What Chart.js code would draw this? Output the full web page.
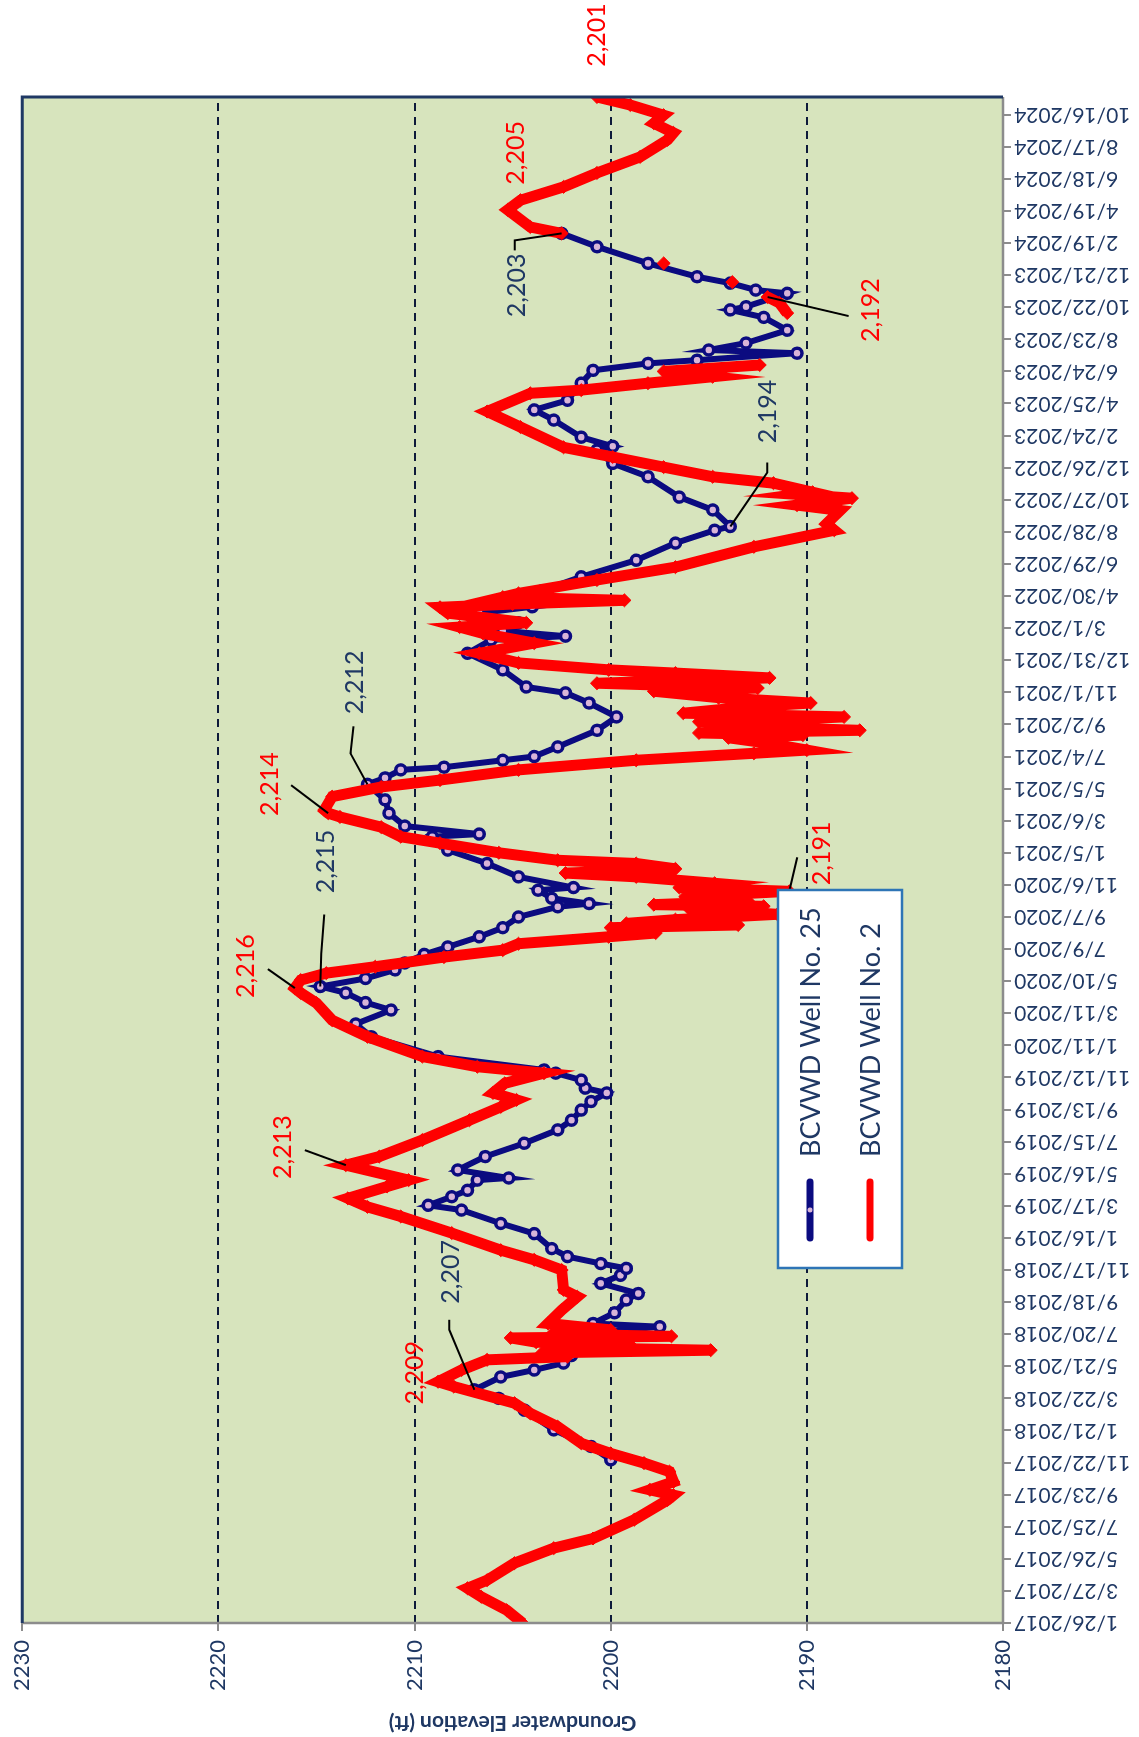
<!DOCTYPE html>
<html>
<head>
<meta charset="utf-8">
<title>Groundwater Elevation</title>
<script src="https://cdn.jsdelivr.net/npm/chart.js@4.4.1/dist/chart.umd.min.js"></script>
<style>
  html, body { margin: 0; padding: 0; background: #fff; overflow: hidden; }
  /* the chart is drawn landscape and turned a quarter turn, like the source */
  #wrap {
    position: absolute; left: 0; top: 0; width: 1737px; height: 1139px;
    transform-origin: 0 0;
    transform: translate(0px, 1737px) rotate(-90deg);
  }
</style>
</head>
<body>
<div id="wrap"><canvas id="chart" width="1737" height="1139"></canvas></div>
<script>
// x values are days after 1/26/2017
const startDate = Date.UTC(2017, 0, 26);
const axisMaxDay = 2853;

// BCVWD Well No. 25
const well25Days = [305, 330, 361, 398, 420, 436, 460, 473, 486, 500, 540, 554, 560, 580, 604, 616, 635, 650, 663, 672,
  685, 700, 728, 747, 772, 781, 797, 809, 828, 832, 847, 872, 897, 922, 940, 959, 975, 991, 1000, 1015,
  1028, 1034, 1059, 1096, 1120, 1146, 1160, 1178, 1190, 1205, 1221, 1234, 1250, 1264, 1283, 1300, 1320, 1339, 1345, 1355,
  1370, 1375, 1395, 1420, 1445, 1470, 1475, 1490, 1514, 1539, 1568, 1580, 1595, 1600, 1613, 1620, 1638, 1669, 1694, 1720,
  1739, 1750, 1782, 1813, 1838, 1845, 1855, 1870, 1888, 1900, 1912, 1930, 1956, 1987, 2019, 2043, 2050, 2081, 2105, 2143,
  2168, 2193, 2200, 2217, 2249, 2268, 2286, 2318, 2342, 2355, 2361, 2374, 2380, 2393, 2417, 2441, 2455, 2461, 2486, 2492,
  2505, 2517, 2542, 2573, 2598];
const well25Values = [2200.0, 2201.0, 2202.9, 2204.4, 2205.7, 2206.95, 2205.6, 2203.9, 2202.4, 2202.0, 2201.5, 2197.5, 2200.9, 2199.8, 2199.2, 2198.6, 2200.5, 2199.5, 2199.2, 2200.5,
  2202.2, 2203.0, 2203.9, 2205.6, 2207.6, 2209.3, 2208.1, 2207.3, 2206.8, 2205.2, 2207.8, 2206.4, 2204.4, 2202.7, 2202.0, 2201.5, 2201.0, 2200.2, 2201.3, 2201.5,
  2202.8, 2203.4, 2208.8, 2212.2, 2213.0, 2211.2, 2212.5, 2213.5, 2214.8, 2212.5, 2211.0, 2210.5, 2209.5, 2208.3, 2206.7, 2205.5, 2204.7, 2202.7, 2201.1, 2203.0,
  2203.7, 2201.9, 2204.7, 2206.3, 2208.3, 2209.1, 2206.7, 2210.5, 2211.3, 2211.5, 2212.4, 2211.5, 2210.7, 2208.5, 2205.5, 2203.9, 2202.7, 2200.7, 2199.7, 2201.1,
  2202.3, 2204.3, 2205.5, 2207.3, 2206.1, 2202.3, 2205.5, 2204.7, 2206.7, 2204.0, 2205.5, 2203.5, 2201.5, 2198.7, 2196.7, 2194.7, 2193.9, 2194.8, 2196.5, 2198.1,
  2199.9, 2200.7, 2199.9, 2201.5, 2202.9, 2203.9, 2202.2, 2201.5, 2200.9, 2198.1, 2195.6, 2190.5, 2195.0, 2193.1, 2191.0, 2192.2, 2193.9, 2193.1, 2191.0, 2192.6,
  2193.9, 2195.6, 2198.1, 2200.7, 2202.5];

// BCVWD Well No. 2 (null = no reading)
const well2Days = [0, 24, 49, 65, 80, 112, 140, 158, 193, 230, 239, 249, 264, 283, 299, 317, 336, 367, 392, 411,
  442, 451, 473, 492, 498, 505, 510, 515, 520, 525, 533, 536, 540, 548, 560, 585, 610, 623, 660, 679,
  697, 729, 760, 778, 794, 816, 828, 856, 872, 903, 940, 965, 978, 991, 1009, 1028, 1040, 1059, 1096, 1127,
  1159, 1178, 1187, 1202, 1215, 1227, 1245, 1258, 1270, 1283, 1290, 1300, 1305, 1308, 1315, 1325, 1335, 1340, 1343, 1350,
  1358, 1368, 1375, 1383, 1395, 1402, 1410, 1420, 1426, 1440, 1458, 1470, 1488, 1507, 1514, 1520, 1545, 1563, 1576, 1595,
  1613, 1626, 1632, 1645, 1655, 1660, 1664, 1669, 1675, 1680, 1685, 1690, 1694, 1701, 1713, 1720, 1730, 1742, 1748, 1757,
  1767, 1776, 1782, 1795, 1813, 1832, 1850, 1862, 1870, 1888, 1899, 1905, 1912, 1918, 1925, 1950, 1974, 2012, 2043, 2055,
  2080, 2090, 2103, 2110, 2114, 2131, 2143, 2161, 2180, 2198, 2236, 2265, 2299, 2305, 2318, 2330, 2340, 2352, 2400, 2449,
  2468, 2479, 2493, 2507, 2525, 2542, 2570, 2598, 2610, 2642, 2660, 2685, 2711, 2741, 2773, 2786, 2804, 2819, 2838, 2853];
const well2Values = [2204.5, 2205.3, 2206.6, 2207.3, 2206.3, 2204.9, 2202.9, 2200.9, 2198.8, 2197.1, 2196.8, 2198.0, 2196.8, 2197.0, 2198.3, 2200.0, 2201.5, 2202.7, 2204.1, 2204.9,
  2208.0, 2208.8, 2207.6, 2206.3, 2202.2, 2203.5, 2194.9, 2202.5, 2199.0, 2203.8, 2205.1, 2196.9, 2203.0, 2200.0, 2203.2, 2202.5, 2201.7, 2202.4, 2202.5, 2203.9,
  2205.6, 2208.1, 2210.7, 2212.4, 2213.4, 2211.4, 2210.3, 2213.5, 2211.8, 2209.6, 2207.2, 2205.6, 2204.8, 2206.0, 2205.4, 2203.4, 2206.8, 2209.6, 2212.4, 2214.2,
  2215.0, 2215.8, 2216.1, 2215.8, 2214.5, 2212.0, 2208.5, 2205.5, 2204.7, 2200.1, 2197.7, 2200.0, 2193.5, 2199.2, 2196.7, 2191.5, 2196.0, 2192.2, 2197.8, 2193.0,
  2196.2, 2190.9, 2196.5, 2194.7, 2198.7, 2202.3, 2196.7, 2198.7, 2202.7, 2205.7, 2208.7, 2210.7, 2211.7, 2213.8, 2214.4, 2214.6, 2214.2, 2211.7, 2208.7, 2204.7,
  2198.7, 2192.7, 2190.0, 2192.0, 2194.0, 2190.2, 2195.5, 2187.3, 2192.7, 2189.8, 2195.5, 2190.5, 2188.1, 2196.3, 2192.9, 2189.8, 2194.5, 2197.8, 2192.5, 2200.7,
  2191.9, 2196.7, 2200.1, 2204.7, 2206.7, 2203.9, 2206.5, 2207.7, 2204.3, 2208.3, 2208.7, 2205.0, 2199.3, 2205.5, 2204.7, 2200.7, 2196.7, 2192.7, 2188.6, 2189.0,
  2188.3, 2190.5, 2187.7, 2190.5, 2189.7, 2191.7, 2194.8, 2197.3, 2199.9, 2202.4, 2204.6, 2206.3, 2204.1, 2201.5, 2198.1, 2194.8, 2197.3, 2192.4, null, 2191.0,
  2191.4, 2192.0, null, 2193.8, null, 2197.3, null, 2202.5, 2204.1, 2205.25, 2204.6, 2202.4, 2200.7, 2198.5, 2197.1, 2196.8, 2197.8, 2197.3, 2199.0, 2200.7];

// labelled readings: which well, which day, where the text sits, leader line
const pointLabels = [
  { well: 2, day: 2853, text: '2,201', dx: 62, dy: 0, leader: [] },
  { well: 2, day: 2642, text: '2,205', dx: 57, dy: 8, leader: [] },
  { well: 25, day: 2598, text: '2,203', dx: -52, dy: -45, leader: [[-17, -47], [-7, -47]] },
  { well: 2, day: 2479, text: '2,192', dx: -13, dy: 103, leader: [[-19, 81]] },
  { well: 25, day: 2050, text: '2,194', dx: 115, dy: 38, leader: [[64, 37], [54, 37]] },
  { well: 25, day: 1568, text: '2,212', dx: 102, dy: -13, leader: [[58, -14], [31, -17]] },
  { well: 2, day: 1514, text: '2,214', dx: 29, dy: -58, leader: [[28, -37]] },
  { well: 25, day: 1190, text: '2,215', dx: 125, dy: 6, leader: [[72, 4], [33, 1]] },
  { well: 2, day: 1187, text: '2,216', dx: 22, dy: -49, leader: [[19, -27]] },
  { well: 2, day: 856, text: '2,213', dx: 18, dy: -63, leader: [[15, -41]] },
  { well: 25, day: 436, text: '2,207', dx: 118, dy: -23, leader: [[70, -25], [60, -25]] },
  { well: 2, day: 451, text: '2,209', dx: 9, dy: -23, leader: [] },
  { well: 2, day: 1368, text: '2,191', dx: 38, dy: 33, leader: [[34, 8]] }
];

const navy = '#0B0B80';
const textNavy = '#1F3864';
const red = '#FF0000';
const plotGreen = '#D7E4BD';

function dayToLabel(day) {
  const d = new Date(startDate + day * 86400000);
  return (d.getUTCMonth() + 1) + '/' + d.getUTCDate() + '/' + d.getUTCFullYear();
}

function toPoints(days, values) {
  return days.map((d, i) => ({ x: d, y: values[i] }));
}

// plot background and the frame around it
const framePlugin = {
  id: 'frame',
  beforeDraw(chart) {
    const { ctx, chartArea: a } = chart;
    ctx.save();
    ctx.fillStyle = plotGreen;
    ctx.fillRect(a.left, a.top, a.right - a.left, a.bottom - a.top);
    ctx.restore();
  },
  afterDatasetsDraw(chart) {
    const { ctx, chartArea: a } = chart;
    ctx.save();
    ctx.lineWidth = 2.5;
    ctx.strokeStyle = '#8C8C8C';
    ctx.beginPath();
    ctx.moveTo(a.left, a.top);
    ctx.lineTo(a.left, a.bottom);
    ctx.lineTo(a.right, a.bottom);
    ctx.stroke();
    ctx.strokeStyle = textNavy;
    ctx.lineWidth = 3;
    ctx.beginPath();
    ctx.moveTo(a.left, a.top);
    ctx.lineTo(a.right, a.top);
    ctx.lineTo(a.right, a.bottom);
    ctx.stroke();
    ctx.restore();
  }
};

// value labels with leader lines
const labelPlugin = {
  id: 'pointLabels',
  afterDatasetsDraw(chart) {
    const { ctx } = chart;
    const xs = chart.scales.x, ys = chart.scales.y;
    ctx.save();
    ctx.font = '25px Lato';
    ctx.textAlign = 'center';
    ctx.textBaseline = 'middle';
    pointLabels.forEach(l => {
      const days = l.well === 2 ? well2Days : well25Days;
      const vals = l.well === 2 ? well2Values : well25Values;
      const px = xs.getPixelForValue(l.day);
      const py = ys.getPixelForValue(vals[days.indexOf(l.day)]);
      if (l.leader.length) {
        ctx.strokeStyle = '#000';
        ctx.lineWidth = 2;
        ctx.beginPath();
        ctx.moveTo(px + l.leader[0][0], py + l.leader[0][1]);
        l.leader.slice(1).forEach(p => ctx.lineTo(px + p[0], py + p[1]));
        ctx.lineTo(px, py);
        ctx.stroke();
      }
      ctx.fillStyle = l.well === 2 ? red : textNavy;
      ctx.fillText(l.text, px + l.dx, py + l.dy);
    });
    ctx.restore();
  }
};

// legend box placed inside the plot
const legendPlugin = {
  id: 'boxLegend',
  afterDraw(chart) {
    const { ctx } = chart;
    const box = { x: 469, y: 778, w: 378, h: 124 };
    ctx.save();
    ctx.fillStyle = '#fff';
    ctx.fillRect(box.x, box.y, box.w, box.h);
    ctx.strokeStyle = '#2E75B6';
    ctx.lineWidth = 2.5;
    ctx.strokeRect(box.x, box.y, box.w, box.h);
    const rows = [chart.data.datasets[1], chart.data.datasets[0]];
    rows.forEach((ds, i) => {
      const cy = box.y + 32 + i * 60;
      ctx.strokeStyle = ds.borderColor;
      ctx.lineWidth = 7;
      ctx.lineCap = 'round';
      ctx.beginPath();
      ctx.moveTo(box.x + 30, cy);
      ctx.lineTo(box.x + 86, cy);
      ctx.stroke();
      ctx.fillStyle = ds.pointBackgroundColor;
      ctx.beginPath();
      ctx.arc(box.x + 58, cy, 2.5, 0, Math.PI * 2);
      ctx.fill();
      ctx.fillStyle = textNavy;
      ctx.font = '27px Lato';
      ctx.textAlign = 'left';
      ctx.textBaseline = 'middle';
      ctx.fillText(ds.label, box.x + 111, cy + 1);
    });
    ctx.restore();
  }
};

const chart = new Chart(document.getElementById('chart'), {
  type: 'line',
  data: {
    datasets: [
      {
        label: 'BCVWD Well No. 2',
        data: toPoints(well2Days, well2Values),
        borderColor: red,
        backgroundColor: red,
        borderWidth: 11,
        pointStyle: 'rectRot',
        pointRadius: 6.5,
        pointBackgroundColor: red,
        pointBorderColor: red,
        pointBorderWidth: 1,
        tension: 0,
        spanGaps: false,
        order: 0
      },
      {
        label: 'BCVWD Well No. 25',
        data: toPoints(well25Days, well25Values),
        borderColor: navy,
        backgroundColor: navy,
        borderWidth: 6,
        pointStyle: 'circle',
        pointRadius: 5,
        pointBackgroundColor: '#D8B4D8',
        pointBorderColor: navy,
        pointBorderWidth: 3.5,
        tension: 0,
        order: 1
      }
    ]
  },
  options: {
    responsive: false,
    animation: false,
    layout: { padding: { left: 0, right: 97, top: 19, bottom: 0 } },
    plugins: {
      legend: { display: false },
      tooltip: { enabled: false }
    },
    scales: {
      x: {
        type: 'linear',
        min: 0,
        max: axisMaxDay,
        ticks: {
          stepSize: 60,
          includeBounds: false,
          autoSkip: false,
          minRotation: 90,
          maxRotation: 90,
          padding: 3,
          color: textNavy,
          font: { family: 'Lato', size: 21 },
          callback: v => dayToLabel(v)
        },
        grid: { drawOnChartArea: false, color: '#8C8C8C', lineWidth: 2, tickLength: 8 },
        border: { display: false },
        afterFit(scale) { scale.height = 136; }
      },
      y: {
        min: 2180,
        max: 2230,
        ticks: {
          stepSize: 10,
          padding: 9,
          color: textNavy,
          font: { family: 'Lato', size: 22 },
          callback: v => String(v)
        },
        grid: {
          color: c => (c.tick && (c.tick.value === 2180 || c.tick.value === 2230)) ? 'rgba(0,0,0,0)' : '#0E1A3A',
          lineWidth: 2,
          tickColor: '#8C8C8C',
          tickLength: 8
        },
        border: { display: false, dash: [8, 6] },
        title: {
          display: true,
          text: 'Groundwater Elevation (ft)',
          color: textNavy,
          font: { family: 'Lato', size: 21, weight: 'bold' },
          padding: { top: 2, bottom: 0 }
        },
        afterFit(scale) { scale.width = 114; }
      }
    }
  },
  plugins: [framePlugin, labelPlugin, legendPlugin]
});
</script>
</body>
</html>
